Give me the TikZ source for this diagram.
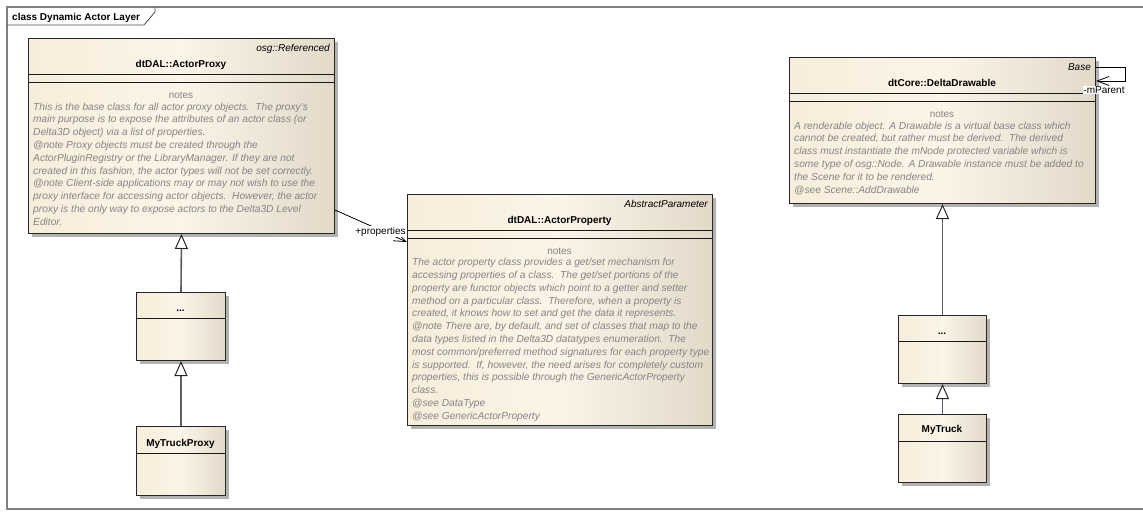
\documentclass[tikz,border=0pt]{standalone}
\usepackage{fontspec}
\setmainfont{Liberation Sans}
\usetikzlibrary{arrows.meta,shadows,calc}

\definecolor{frameline}{HTML}{7F7F7F}
\definecolor{boxL}{HTML}{F7EDDB}
\definecolor{boxM}{HTML}{FBF4E7}
\definecolor{boxR}{HTML}{E2D9C9}
\definecolor{notegray}{HTML}{858585}
\definecolor{genline}{HTML}{5F5F5F}

\begin{document}
\begin{tikzpicture}[x=1pt,y=-1pt,
  frame/.style={draw=frameline, line width=1.6pt},
  tabline/.style={draw=black!70, line width=0.8pt},
  classbox/.style={draw=black!85, line width=1pt, left color=boxL, right color=boxR,
    middle color=boxM, inner sep=0pt, anchor=north west,
    drop shadow={shadow xshift=3pt, shadow yshift=-3pt, fill=black!30, opacity=1}},
  sepline/.style={draw=black!90, line width=0.9pt},
  stereo/.style={font=\fontsize{10}{12}\selectfont\itshape, inner sep=0pt, anchor=base east},
  cname/.style={font=\fontsize{10}{12}\selectfont\bfseries, inner sep=0pt, anchor=base},
  notehead/.style={font=\fontsize{10}{12}\selectfont, text=notegray, inner sep=0pt, anchor=base},
  notetext/.style={font=\fontsize{10.2}{12.8}\selectfont\itshape, text=notegray, inner sep=0pt, anchor=base west},
  rolelbl/.style={font=\fontsize{10}{12}\selectfont, fill=white, inner xsep=0.5pt, inner ysep=0.8pt},
  gen/.style={draw=genline, line width=1.6pt,
    -{Triangle[length=15pt,width=13pt,fill=white,color=black!85,line width=1pt]}},
  assoc/.style={draw=black, line width=0.8pt, -{Straight Barb[length=12pt,width=9pt]}}
]
\useasboundingbox (0,0) rectangle (1143,517);
\clip (0,0) rectangle (1143,517);
\fill[white] (0,0) rectangle (1143,517);

% diagram frame with its name tab
\draw[frame] (1150,7) -- (7,7) -- (7,509) -- (1150,509);
\draw[tabline] (7,25) -- (144,25) -- (155,12) -- (155,7);
\node[font=\fontsize{10}{12}\selectfont\bfseries, inner sep=0pt, anchor=base west] (title) at (12,20.5) {class Dynamic Actor Layer};

% ---------- dtDAL::ActorProxy ----------
\node[classbox, minimum width=306pt, minimum height=195pt] (proxy) at (28,38) {};
\draw[sepline] (28,74.5) -- (334,74.5);
\draw[sepline] (28,82.5) -- (334,82.5);
\node[stereo] (proxyst) at (330,51.1) {osg::Referenced};
\node[cname] (proxyname) at (181,67.6) {dtDAL::ActorProxy};
\node[notehead] (proxynh) at (181,98.6) {notes};
\foreach \t [count=\i from 0] in {
  {This is the base class for all actor proxy objects.\ \ The proxy's},
  {main purpose is to expose the attributes of an actor class (or},
  {Delta3D object) via a list of properties.},
  {@note Proxy objects must be created through the},
  {ActorPluginRegistry or the LibraryManager. If they are not},
  {created in this fashion, the actor types will not be set correctly.},
  {@note Client-side applications may or may not wish to use the},
  {proxy interface for accessing actor objects.\ \ However, the actor},
  {proxy is the only way to expose actors to the Delta3D Level},
  {Editor.}}
  \node[notetext] (pn\i) at (33,110+12.8*\i) {\t};

% ---------- dtDAL::ActorProperty ----------
\node[classbox, minimum width=305pt, minimum height=231pt] (prop) at (407,194) {};
\draw[sepline] (407,230.5) -- (712,230.5);
\draw[sepline] (407,238.5) -- (712,238.5);
\node[stereo] (propst) at (708,207) {AbstractParameter};
\node[cname] (propname) at (559.5,223.6) {dtDAL::ActorProperty};
\node[notehead] (propnh) at (559.5,254.6) {notes};
\foreach \t [count=\i from 0] in {
  {The actor property class provides a get/set mechanism for},
  {accessing properties of a class.\ \ The get/set portions of the},
  {property are functor objects which point to a getter and setter},
  {method on a particular class.\ \ Therefore, when a property is},
  {created, it knows how to set and get the data it represents.},
  {@note There are, by default, and set of classes that map to the},
  {data types listed in the Delta3D datatypes enumeration.\ \ The},
  {most common/preferred method signatures for each property type},
  {is supported.\ \ If, however, the need arises for completely custom},
  {properties, this is possible through the GenericActorProperty},
  {class.},
  {@see DataType},
  {@see GenericActorProperty}}
  \node[notetext] (qn\i) at (412,265.6+12.8*\i) {\t};

% ---------- dtCore::DeltaDrawable ----------
\node[classbox, minimum width=306pt, minimum height=146pt] (dd) at (789,57) {};
\draw[sepline] (789,93.5) -- (1095,93.5);
\draw[sepline] (789,101.5) -- (1095,101.5);
\node[stereo] (ddst) at (1091,70) {Base};
\node[cname] (ddname) at (942,86.6) {dtCore::DeltaDrawable};
\node[notehead] (ddnh) at (942,117.6) {notes};
\foreach \t [count=\i from 0] in {
  {A renderable object. A Drawable is a virtual base class which},
  {cannot be created, but rather must be derived.\ \ The derived},
  {class must instantiate the mNode protected variable which is},
  {some type of osg::Node. A Drawable instance must be added to},
  {the Scene for it to be rendered.},
  {@see Scene::AddDrawable}}
  \node[notetext] (dn\i) at (794,129+12.8*\i) {\t};

% ---------- small derived classes ----------
\node[classbox, minimum width=89pt, minimum height=68pt] (dotsL) at (136,292) {};
\draw[sepline] (136,318) -- (225,318);
\node[cname] (dotsLname) at (180.5,311.6) {...};

\node[classbox, minimum width=89pt, minimum height=69pt] (mtp) at (136,426) {};
\draw[sepline] (136,453) -- (225,453);
\node[cname] (mtpname) at (180.5,446.6) {MyTruckProxy};

\node[classbox, minimum width=88pt, minimum height=68pt] (dotsR) at (898,315) {};
\draw[sepline] (898,341) -- (986,341);
\node[cname] (dotsRname) at (942,334.6) {...};

\node[classbox, minimum width=88pt, minimum height=68pt] (mt) at (898,414) {};
\draw[sepline] (898,441) -- (986,441);
\node[cname] (mtname) at (942,432.6) {MyTruck};

% ---------- generalizations ----------
\draw[gen] (dotsL.north) -- (proxy.south);
\draw[gen] (mtp.north) -- (dotsL.south);
\draw[gen] (dotsR.north) -- (dd.south);
\draw[gen] (mt.north) -- (dotsR.south);

% ---------- associations ----------
\draw[assoc] ($(proxy.north east)+(0,172)$) -- ($(prop.north west)+(0,48)$);
\node[rolelbl] (proplbl) at (380.5,231.5) {+properties};

\coordinate (loopA) at ($(dd.north east)+(29,10)$);
\coordinate (loopB) at ($(dd.north east)+(29,24)$);
\draw[assoc] ($(dd.north east)+(0,10)$) -- (loopA) -- (loopB) -- ($(dd.north east)+(0,24)$);
\node[rolelbl] (parentlbl) at (1104,90) {-mParent};
\end{tikzpicture}
\end{document}
